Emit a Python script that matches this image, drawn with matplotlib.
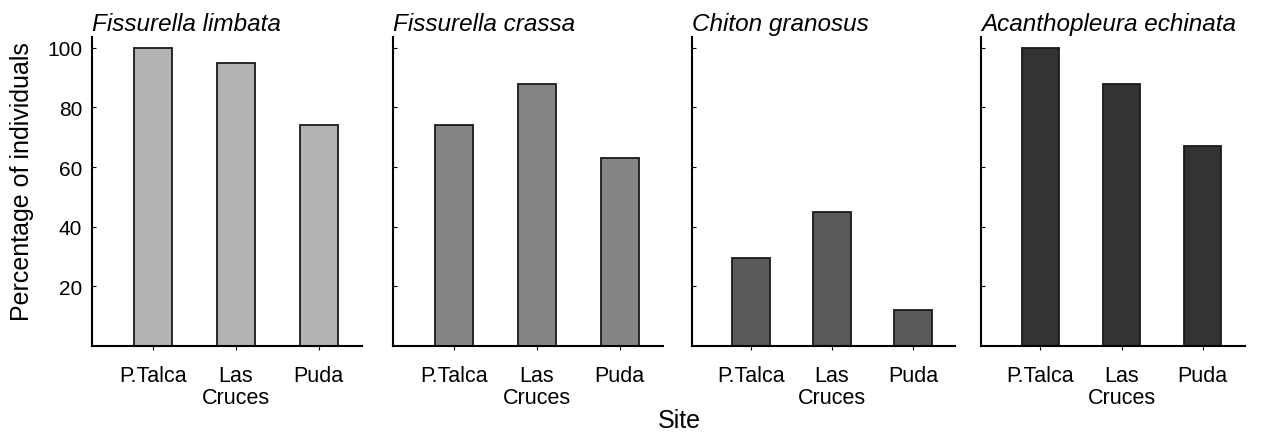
import matplotlib.pyplot as plt
import numpy as np

plt.rcParams['font.family'] = ['Liberation Sans', 'DejaVu Sans']

# data
species = ['Fissurella limbata', 'Fissurella crassa', 'Chiton granosus', 'Acanthopleura echinata']
sites = ['P.Talca', 'Las\nCruces', 'Puda']
limbata = [100, 95, 74]
crassa = [74, 88, 63]
granosus = [29.5, 45, 12]
echinata = [100, 88, 67]
values = [limbata, crassa, granosus, echinata]
colors = ['#b3b3b3', '#858585', '#5a5a5a', '#333333']

fig = plt.figure(figsize=(12.62, 4.35), dpi=100)
W, H = 1262, 435
lefts = [92, 393, 692, 981]
widths = [270, 270, 263, 264]
bottom, top = 347, 38

x = np.arange(len(sites))
for i, (sp, vals) in enumerate(zip(species, values)):
    ax = fig.add_axes([lefts[i] / W, 1 - bottom / H, widths[i] / W, (bottom - top) / H])
    ax.bar(x, vals, width=0.46, color=colors[i], edgecolor='#1a1a1a', linewidth=1.3)
    ax.set_xlim(-0.73, 2.52)
    ax.set_ylim(0, 103.6)
    ax.set_xticks(x)
    ax.set_xticklabels(sites, fontsize=15.5, linespacing=1.05)
    ax.set_yticks([20, 40, 60, 80, 100])
    if i == 0:
        ax.tick_params(axis='y', labelsize=15)
    else:
        ax.tick_params(axis='y', labelleft=False)
    ax.tick_params(axis='y', direction='in', length=3, width=0.8, pad=7)
    ax.tick_params(axis='x', direction='out', length=3, width=0.8, pad=11)
    for s in ['top', 'right']:
        ax.spines[s].set_visible(False)
    ax.spines['left'].set_linewidth(1.5)
    ax.spines['bottom'].set_linewidth(1.5)
    ax.set_title(sp, loc='left', fontsize=17.5, style='italic', pad=5)

fig.text(22 / W, 1 - 182 / H, 'Percentage of individuals', rotation=90,
         ha='center', va='center', fontsize=18)
fig.text(679 / W, 1 - 421 / H, 'Site', ha='center', va='center', fontsize=18)

plt.savefig('out.png', dpi=100)
